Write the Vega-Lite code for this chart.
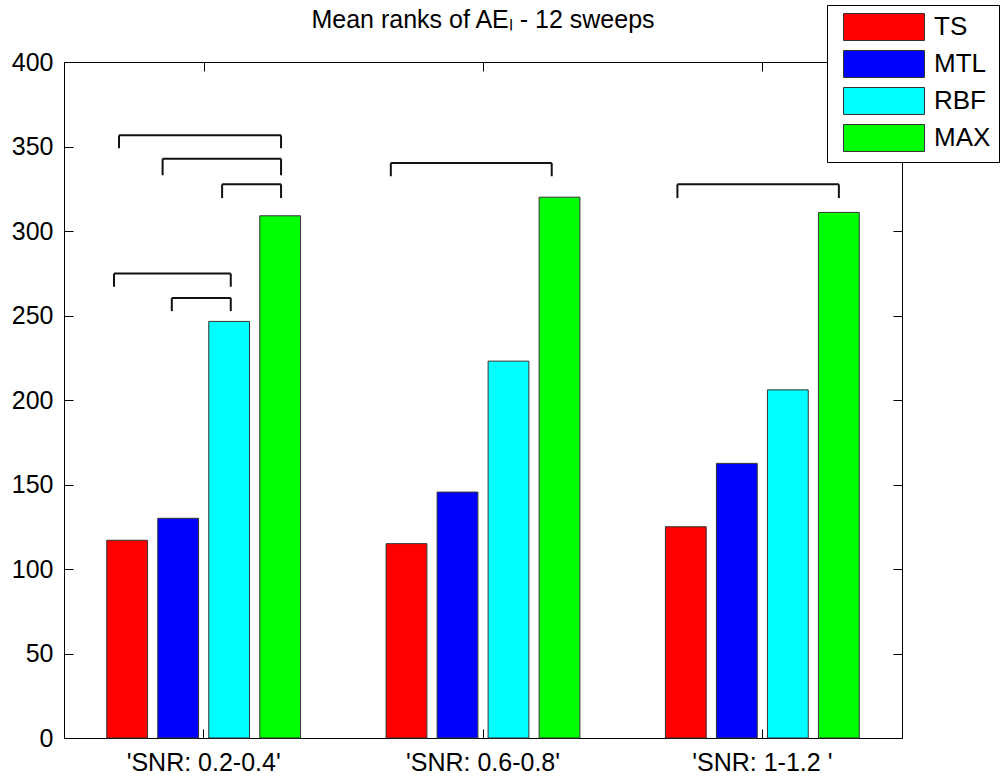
{
  "$schema": "https://vega.github.io/schema/vega-lite/v6.json",
  "width": 838,
  "height": 676,
  "autosize": "none",
  "padding": {"left": 64, "top": 62, "right": 99, "bottom": 38},
  "background": "white",
  "config": {
    "font": "Liberation Sans",
    "view": {"stroke": "black", "strokeWidth": 1},
    "axis": {
      "domain": false,
      "grid": false,
      "tickColor": "black",
      "tickSize": -9,
      "tickWidth": 1,
      "labelColor": "black",
      "labelFontSize": 25,
      "labelFont": "Liberation Sans"
    }
  },
  "title": {
    "text": "Mean ranks of AEₗ - 12 sweeps",
    "fontSize": 25,
    "fontWeight": "normal",
    "font": "Liberation Sans",
    "color": "black",
    "anchor": "middle",
    "offset": 0,
    "baseline": "alphabetic",
    "dy": 48
  },
  "resolve": {"scale": {"x": "independent"}},
  "layer": [
    {
      "data": {
        "values": [
          {"snr": "'SNR: 0.2-0.4'", "method": "TS", "rank": 117},
          {"snr": "'SNR: 0.2-0.4'", "method": "MTL", "rank": 130},
          {"snr": "'SNR: 0.2-0.4'", "method": "RBF", "rank": 246.5},
          {"snr": "'SNR: 0.2-0.4'", "method": "MAX", "rank": 309},
          {"snr": "'SNR: 0.6-0.8'", "method": "TS", "rank": 115},
          {"snr": "'SNR: 0.6-0.8'", "method": "MTL", "rank": 145.5},
          {"snr": "'SNR: 0.6-0.8'", "method": "RBF", "rank": 223},
          {"snr": "'SNR: 0.6-0.8'", "method": "MAX", "rank": 320},
          {"snr": "'SNR: 1-1.2 '", "method": "TS", "rank": 125},
          {"snr": "'SNR: 1-1.2 '", "method": "MTL", "rank": 162.5},
          {"snr": "'SNR: 1-1.2 '", "method": "RBF", "rank": 206},
          {"snr": "'SNR: 1-1.2 '", "method": "MAX", "rank": 311}
        ]
      },
      "mark": {"type": "bar", "stroke": "#333333", "strokeWidth": 1},
      "encoding": {
        "x": {
          "field": "snr",
          "type": "nominal",
          "title": null,
          "scale": {
            "domain": ["'SNR: 0.2-0.4'", "'SNR: 0.6-0.8'", "'SNR: 1-1.2 '"],
            "paddingInner": 0.2696,
            "paddingOuter": 0.1348
          },
          "axis": {"orient": "bottom", "labelAngle": 0, "labelPadding": 21, "labelFontSize": 25}
        },
        "xOffset": {
          "field": "method",
          "type": "nominal",
          "scale": {"domain": ["TS", "MTL", "RBF", "MAX"], "paddingInner": 0.2, "paddingOuter": 0.1}
        },
        "y": {
          "field": "rank",
          "type": "quantitative",
          "title": null,
          "scale": {"domain": [0, 400], "nice": false},
          "axis": {"orient": "left", "values": [0, 50, 100, 150, 200, 250, 300, 350, 400], "labelPadding": 20}
        },
        "color": {
          "field": "method",
          "type": "nominal",
          "scale": {"domain": ["TS", "MTL", "RBF", "MAX"], "range": ["#ff0000", "#0000ff", "#00ffff", "#00ff00"]},
          "legend": {
            "title": null,
            "orient": "none",
            "legendX": 763,
            "legendY": -57,
            "strokeColor": "black",
            "fillColor": "white",
            "padding": 8,
            "labelFontSize": 26,
            "labelFont": "Liberation Sans",
            "labelColor": "black",
            "symbolType": "M-1,-1H5V1H-1Z",
            "symbolSize": 729,
            "symbolStrokeColor": "#333333",
            "symbolStrokeWidth": 1,
            "symbolOpacity": 1,
            "symbolOffset": 8,
            "rowPadding": 5,
            "labelOffset": 63
          }
        }
      }
    },
    {
      "data": {
        "values": [
          {"x1": 0.697, "x2": 1.277, "top": 356.6, "end": 349.0},
          {"x1": 0.853, "x2": 1.277, "top": 342.8, "end": 333.0},
          {"x1": 1.066, "x2": 1.277, "top": 327.6, "end": 319.5},
          {"x1": 0.679, "x2": 1.097, "top": 274.8, "end": 267.0},
          {"x1": 0.886, "x2": 1.097, "top": 260.4, "end": 252.6},
          {"x1": 1.670, "x2": 2.246, "top": 340.2, "end": 332.4},
          {"x1": 2.696, "x2": 3.274, "top": 327.6, "end": 319.5}
        ]
      },
      "encoding": {
        "y": {
          "field": "top",
          "type": "quantitative",
          "title": null,
          "scale": {"domain": [0, 400], "nice": false},
          "axis": {"orient": "right", "values": [0, 50, 100, 150, 200, 250, 300, 350, 400], "labels": false}
        }
      },
      "layer": [
        {
          "mark": {"type": "rule", "color": "#111111", "strokeWidth": 2},
          "encoding": {
            "x": {"field": "x1", "type": "quantitative", "title": null, "scale": {"domain": [0.5, 3.5]}, "axis": {"orient": "top", "values": [1, 2, 3], "labels": false}},
            "x2": {"field": "x2"}
          }
        },
        {
          "mark": {"type": "rule", "color": "#111111", "strokeWidth": 2},
          "encoding": {
            "x": {"field": "x1", "type": "quantitative", "title": null, "scale": {"domain": [0.5, 3.5]}, "axis": {"orient": "top", "values": [1, 2, 3], "labels": false}},
            "y2": {"field": "end"}
          }
        },
        {
          "mark": {"type": "rule", "color": "#111111", "strokeWidth": 2},
          "encoding": {
            "x": {"field": "x2", "type": "quantitative", "title": null, "scale": {"domain": [0.5, 3.5]}, "axis": {"orient": "top", "values": [1, 2, 3], "labels": false}},
            "y2": {"field": "end"}
          }
        }
      ]
    }
  ]
}
